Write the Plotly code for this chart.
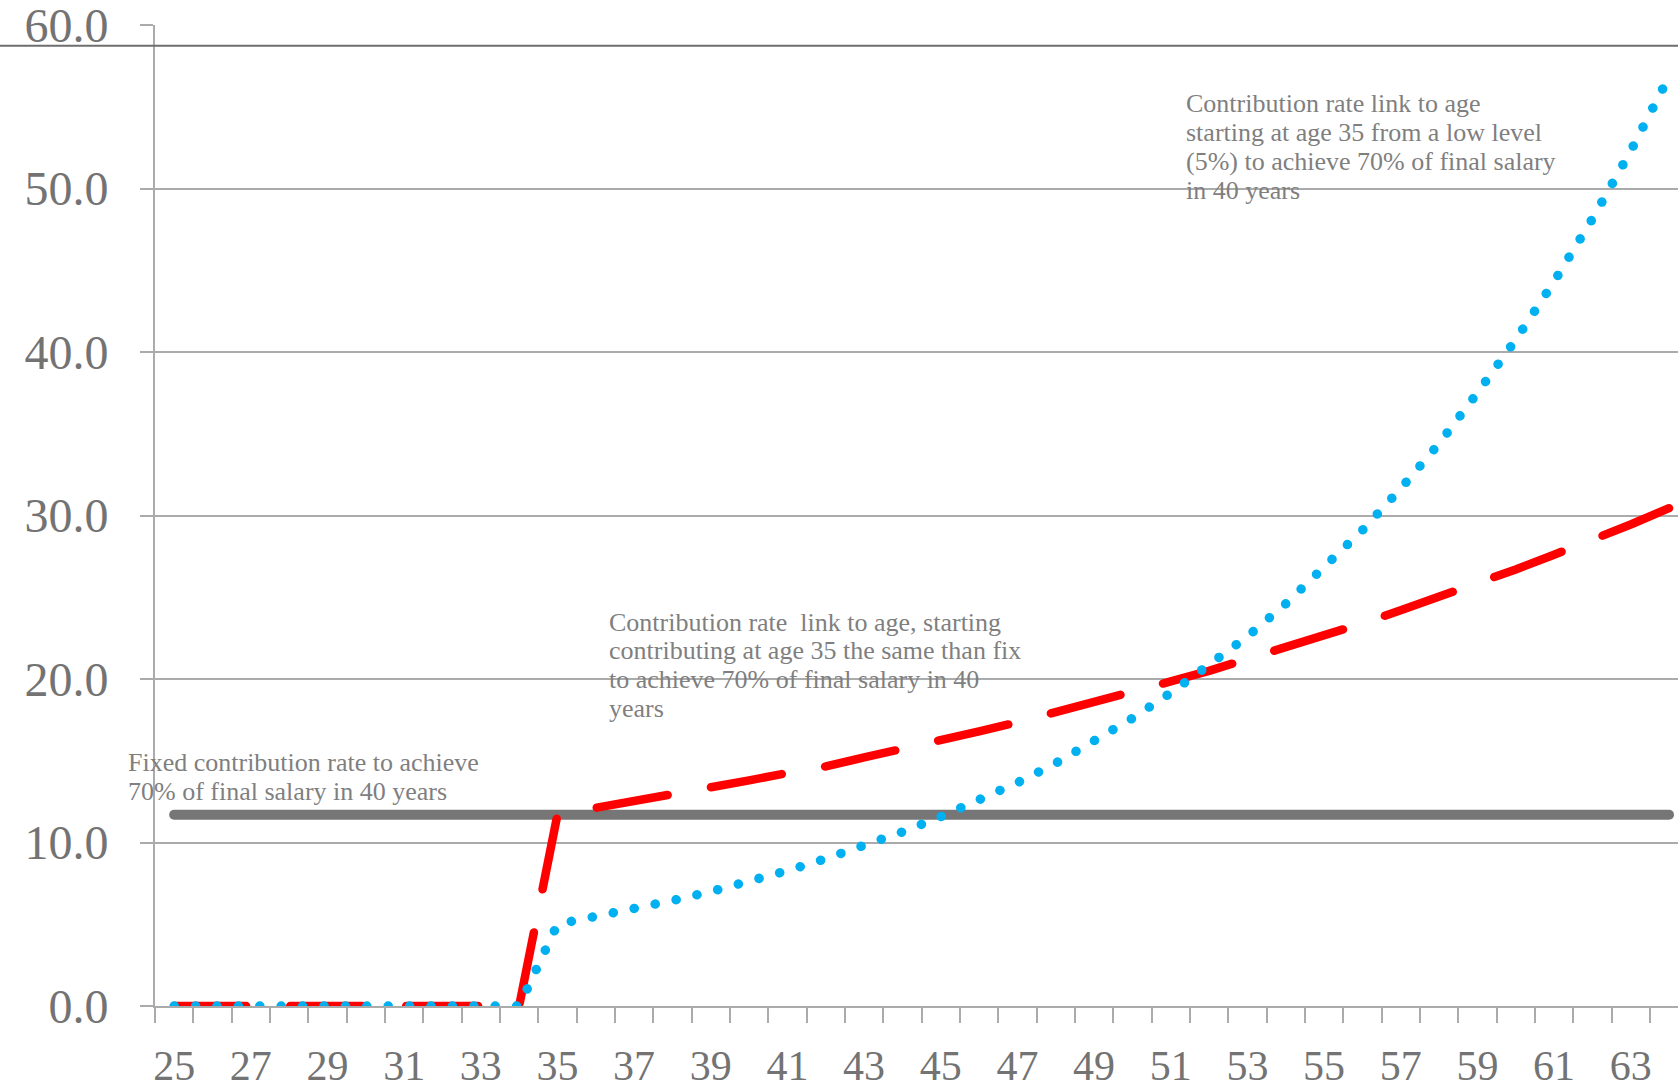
import plotly.graph_objects as go

# ---- data ----
ages = [25, 26, 27, 28, 29, 30, 31, 32, 33, 34, 35, 36, 37, 38, 39, 40, 41, 42, 43, 44,
        45, 46, 47, 48, 49, 50, 51, 52, 53, 54, 55, 56, 57, 58, 59, 60, 61, 62, 63, 64]

fixed_rate = [11.7, 11.7, 11.7, 11.7, 11.7, 11.7, 11.7, 11.7, 11.7, 11.7,
              11.7, 11.7, 11.7, 11.7, 11.7, 11.7, 11.7, 11.7, 11.7, 11.7,
              11.7, 11.7, 11.7, 11.7, 11.7, 11.7, 11.7, 11.7, 11.7, 11.7,
              11.7, 11.7, 11.7, 11.7, 11.7, 11.7, 11.7, 11.7, 11.7, 11.7]

age_linked_same = [0, 0, 0, 0, 0, 0, 0, 0, 0, 0,
                   11.7, 12.1, 12.5, 12.9, 13.35, 13.8, 14.25, 14.65, 15.2, 15.7,
                   16.25, 16.8, 17.35, 17.95, 18.55, 19.2, 19.85, 20.5, 21.2, 21.9,
                   22.65, 23.4, 24.2, 25.0, 25.85, 26.7, 27.6, 28.5, 29.45, 30.45]

age_linked_low = [0, 0, 0, 0, 0, 0, 0, 0, 0, 0,
                  5.0, 5.44, 5.92, 6.45, 7.0, 7.6, 8.28, 9.01, 9.78, 10.65,
                  11.58, 12.56, 13.66, 14.85, 16.2, 17.6, 19.15, 20.79, 22.6, 24.6,
                  26.76, 29.1, 31.65, 34.4, 37.5, 40.75, 44.3, 48.15, 52.3, 56.85]

x_label_ages = [25, 27, 29, 31, 33, 35, 37, 39, 41, 43, 45, 47, 49, 51, 53, 55, 57, 59, 61, 63]
y_ticks = [0, 10, 20, 30, 40, 50, 60]

note_fixed = ["Fixed contribution rate to achieve",
              "70% of final salary in 40 years"]
note_same = ["Contribution rate  link to age, starting",
             "contributing at age 35 the same than fix",
             "to achieve 70% of final salary in 40",
             "years"]
note_low = ["Contribution rate link to age",
            "starting at age 35 from a low level",
            "(5%) to achieve 70% of final salary",
            "in 40 years"]

# ---- styling ----
W, H = 1678, 1091
L, R, T, B = 155, 0, 25, 85
GRID = "#ababab"
LABEL = "#737373"
NOTE = "#7f7f7f"
FONT = "Liberation Serif, Georgia, serif"

fig = go.Figure()
fig.add_trace(go.Scatter(x=ages, y=fixed_rate, mode="lines",
                         line=dict(color="#767676", width=10), hoverinfo="skip"))
fig.add_trace(go.Scatter(x=ages, y=age_linked_same, mode="lines",
                         line=dict(color="#ff0000", width=8.5, dash="72px,44px"), hoverinfo="skip"))
fig.add_trace(go.Scatter(x=ages, y=age_linked_low, mode="lines",
                         line=dict(color="#00b0f0", width=9.5, dash="0.1px,21.3px"), hoverinfo="skip"))

pw = W - L - R
ph = H - T - B
cat_w = 38.33
x_end = 24.5 + pw / cat_w

fig.update_layout(
    width=W, height=H,
    margin=dict(l=L, r=R, t=T, b=B, pad=0, autoexpand=False),
    paper_bgcolor="white", plot_bgcolor="white",
    showlegend=False,
    font=dict(family=FONT, color=LABEL),
    xaxis=dict(
        range=[24.5, x_end], showgrid=False, zeroline=False, automargin=False,
        showline=True, linecolor=GRID, linewidth=2,
        tickmode="array", tickvals=x_label_ages, ticktext=[str(a) for a in x_label_ages],
        ticks="", tickfont=dict(family=FONT, size=42, color=LABEL),
        ticklabelstandoff=22, ticklabeloverflow="allow",
        minor=dict(ticks="outside", tickmode="linear", tick0=24.5, dtick=1,
                   ticklen=15, tickwidth=2, tickcolor=GRID, showgrid=False),
    ),
    yaxis=dict(
        range=[0, 60], tickmode="array", tickvals=y_ticks, automargin=False,
        ticktext=[f"{v:.1f}" for v in y_ticks],
        showgrid=True, gridcolor=GRID, gridwidth=2, zeroline=False,
        showline=True, linecolor=GRID, linewidth=2,
        ticks="outside", ticklen=13, tickwidth=2, tickcolor=GRID,
        tickfont=dict(family=FONT, size=48, color=LABEL),
        ticklabelstandoff=22, ticklabeloverflow="allow",
    ),
    shapes=[dict(type="line", xref="paper", yref="paper",
                 x0=-L / pw, x1=1.0, y0=(H - B - 45.7) / ph, y1=(H - B - 45.7) / ph,
                 line=dict(color="#6e6e6e", width=2))],
)

def px_x(px):
    return (px - L) / pw

def px_y(py):
    return (H - B - py) / ph

note_font = dict(family=FONT, size=26, color=NOTE)
# (lines, left px, first-line centre px, line step px)
for lines, px, py0, step in [(note_fixed, 126, 762, 29.5),
                             (note_same, 607, 622, 28.9),
                             (note_low, 1184, 104, 28.9)]:
    for i, line in enumerate(lines):
        fig.add_annotation(text=line, xref="paper", yref="paper",
                           x=px_x(px), y=px_y(py0 + i * step),
                           xanchor="left", yanchor="middle", align="left",
                           showarrow=False, font=note_font)

css = ("var s=document.createElement('style');"
       "s.textContent='.js-line{stroke-linecap:round !important;stroke-linejoin:round !important;}';"
       "document.head.appendChild(s);")
fig.write_html("out.html", post_script=css, config={"displayModeBar": False})
